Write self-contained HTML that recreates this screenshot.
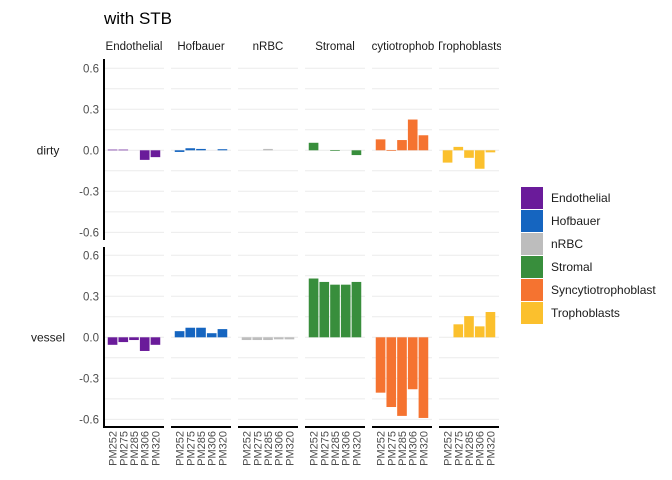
<!DOCTYPE html>
<html><head><meta charset="utf-8"><style>
body{margin:0;background:#fff;}
svg{display:block;font-family:"Liberation Sans",sans-serif;}
</style></head><body>
<svg id="chart" width="672" height="480">
<text x="104" y="24" font-size="17" fill="#000">with STB</text>
<g id="plot"></g>
<g id="legend"></g>
</svg>
<script>
const cellTypes = ["Endothelial","Hofbauer","nRBC","Stromal","Syncytiotrophoblast","Trophoblasts"];
const legendLabels = ["Endothelial","Hofbauer","nRBC","Stromal","Syncytiotrophoblast","Trophoblasts"];
const samples = ["PM252","PM275","PM285","PM306","PM320"];
const rows = ["dirty","vessel"];
const colors = ["#6A1B9A","#1565C0","#BDBDBD","#388E3C","#F57330","#FBC02D"];
const yTicks = [0.6,0.3,0.0,-0.3,-0.6];
const yTickLabels = ["0.6","0.3","0.0","-0.3","-0.6"];
const dirtyEndothelial = [0.005,0.005,0,-0.07,-0.05];
const dirtyHofbauer = [-0.012,0.015,0.01,0,0.008];
const dirtyNRBC = [0,0,0.01,0,0];
const dirtyStromal = [0.055,0,-0.005,0,-0.035];
const dirtySyncytio = [0.08,-0.005,0.075,0.225,0.11];
const dirtyTropho = [-0.09,0.025,-0.055,-0.135,-0.015];
const vesselEndothelial = [-0.055,-0.035,-0.02,-0.1,-0.055];
const vesselHofbauer = [0.045,0.07,0.07,0.03,0.06];
const vesselNRBC = [-0.02,-0.02,-0.02,-0.015,-0.015];
const vesselStromal = [0.43,0.405,0.385,0.385,0.405];
const vesselSyncytio = [-0.405,-0.51,-0.575,-0.38,-0.59];
const vesselTropho = [0,0.095,0.155,0.08,0.185];

const dataRows = [
  [dirtyEndothelial,dirtyHofbauer,dirtyNRBC,dirtyStromal,dirtySyncytio,dirtyTropho],
  [vesselEndothelial,vesselHofbauer,vesselNRBC,vesselStromal,vesselSyncytio,vesselTropho]
];
const NS="http://www.w3.org/2000/svg";
const plot=document.getElementById('plot');
function mk(tag,attrs,parent){const e=document.createElementNS(NS,tag);for(const k in attrs)e.setAttribute(k,attrs[k]);(parent||plot).appendChild(e);return e;}
const panelTop=[59,247], panelBot=[240,428], zeroY=[150.3,337.3];
const pxPerUnit=136.7;
function yScale(r,v){return zeroY[r]-v*pxPerUnit;}
const panelX0=104, panelW=60, panelStep=67;
function xScale(c,i){const unit=panelW/(samples.length+0.6);return panelX0+c*panelStep+(0.3+i+0.5)*unit;}
const barW=panelW/(samples.length+0.6)*0.9;

cellTypes.forEach((ct,c)=>{
  const cx=panelX0+c*panelStep+panelW/2;
  const cp=mk('clipPath',{id:'clip'+c});
  mk('rect',{x:panelX0+c*panelStep,y:30,width:panelW+2,height:25},cp);
  const t=mk('text',{x:cx,y:50,'font-size':11.5,'text-anchor':'middle',fill:'#1a1a1a','clip-path':'url(#clip'+c+')'});
  t.textContent=ct;
  
  
});
rows.forEach((rn,r)=>{
  const t=mk('text',{x:48,y:zeroY[r]+4,'font-size':12,'text-anchor':'middle',fill:'#1a1a1a'});
  t.textContent=rn;
  
  
  cellTypes.forEach((ct,c)=>{
    const x0=panelX0+c*panelStep;
    for(let v=-0.6;v<=0.61;v+=0.15){
      const y=yScale(r,v);
      const g=mk('line',{x1:x0,x2:x0+panelW,y1:y,y2:y,stroke:'#ebebeb','stroke-width':1});
      
      
    }
  });
  yTicks.forEach((v,k)=>{
    const t=mk('text',{x:99,y:yScale(r,v)+4,'font-size':11.5,'text-anchor':'end',fill:'#4d4d4d'});
    t.textContent=yTickLabels[k];
    
    
  });
  dataRows[r].forEach((vals,c)=>{
    vals.forEach((v,i)=>{
      const y1=yScale(r,Math.max(v,0)), y2=yScale(r,Math.min(v,0));
      const b=mk('rect',{x:xScale(c,i)-barW/2,y:y1,width:barW,height:Math.max(y2-y1,0.01),fill:colors[c]});
      
      
    });
  });
  const ax=mk('line',{x1:104,x2:104,y1:panelTop[r],y2:panelBot[r],stroke:'#000','stroke-width':2});
  
  
});
cellTypes.forEach((ct,c)=>{
  const x0=panelX0+c*panelStep;
  const l=mk('line',{x1:x0,x2:x0+panelW,y1:427,y2:427,stroke:'#000','stroke-width':2});
  
  
  samples.forEach((s,i)=>{
    const x=xScale(c,i)+4;
    const t=mk('text',{x:x,y:431,'font-size':11,'text-anchor':'end',fill:'#4d4d4d',transform:'rotate(-90 '+x+' 431)'});
    t.textContent=s;
    
    
  });
});
const lg=document.getElementById('legend');
legendLabels.forEach((lab,k)=>{
  const y=187+k*23;
  const r=mk('rect',{x:521,y:y,width:22,height:22,fill:colors[k]},lg);
  
  
  const t=mk('text',{x:551,y:y+15,'font-size':12,fill:'#1a1a1a'},lg);
  t.textContent=lab;
  
  
});
</script>
</body></html>
